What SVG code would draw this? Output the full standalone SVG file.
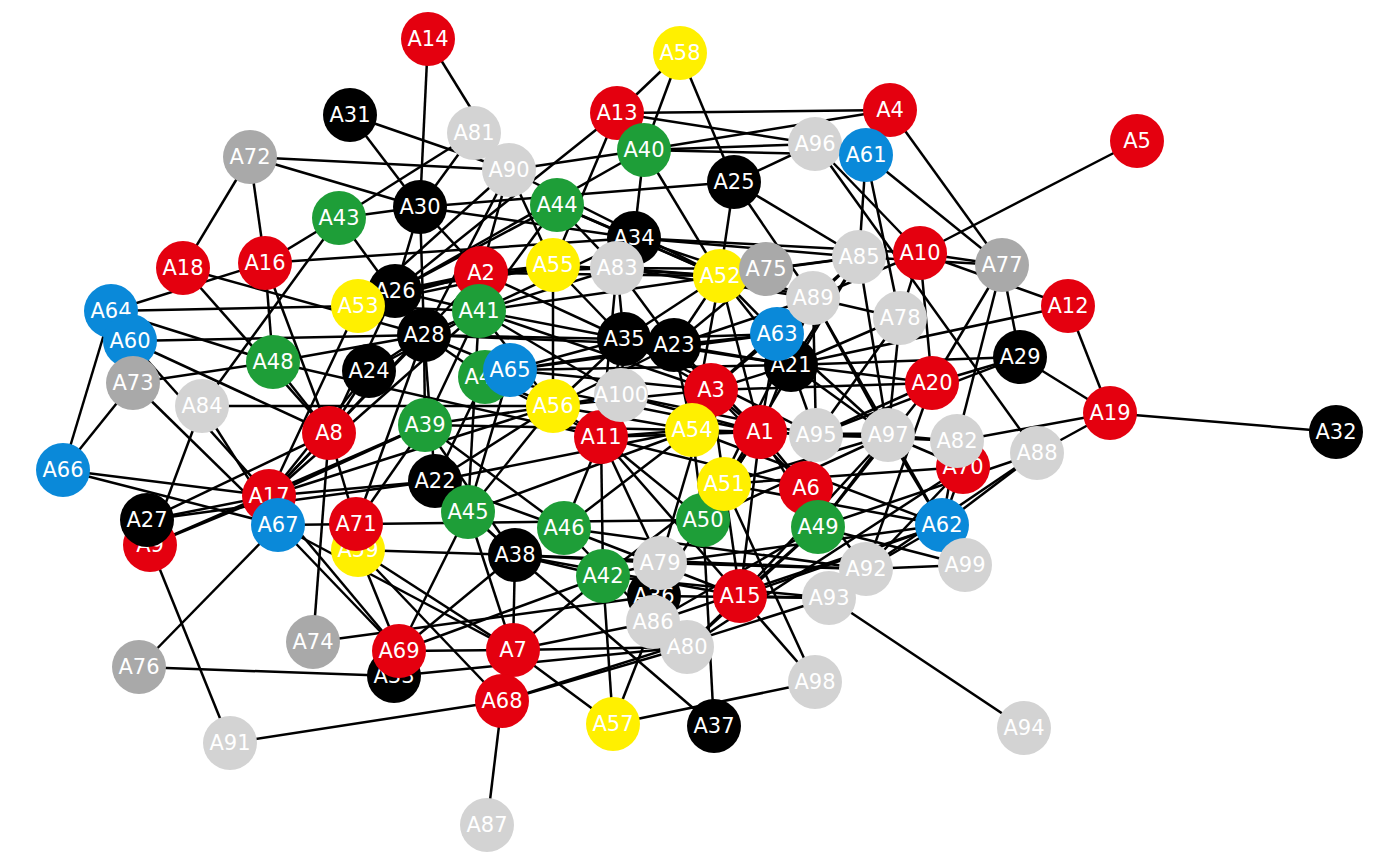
<svg xmlns="http://www.w3.org/2000/svg" width="1400" height="865" viewBox="0 0 1400 865">
<style>
.e line{stroke:#000;stroke-width:2.5}
.e line.t{stroke-width:5}
.r{fill:#E4000F}.k{fill:#000}.g{fill:#1E9E38}.b{fill:#0A89D9}.y{fill:#FFF000}.l{fill:#D3D3D3}.d{fill:#A9A9A9}
.n text{font-family:"DejaVu Sans","Liberation Sans",sans-serif;font-size:21px;fill:#fff;text-anchor:middle}
</style>
<rect width="1400" height="865" fill="#fff"/>
<g id="edges" class="e">
<line x1="428" y1="39" x2="420" y2="207"/><line x1="428" y1="39" x2="509" y2="170"/><line x1="350" y1="115" x2="420" y2="207"/><line x1="350" y1="115" x2="509" y2="170"/>
<line x1="250" y1="157" x2="183" y2="268"/><line x1="250" y1="157" x2="265" y2="263"/><line x1="250" y1="157" x2="509" y2="170"/><line x1="250" y1="157" x2="420" y2="207"/>
<line x1="339" y1="218" x2="265" y2="263"/><line x1="339" y1="218" x2="202" y2="406"/><line x1="339" y1="218" x2="420" y2="207"/><line x1="339" y1="218" x2="474" y2="133"/><line x1="339" y1="218" x2="424" y2="335"/>
<line x1="265" y1="263" x2="634" y2="238"/><line x1="265" y1="263" x2="273" y2="362"/><line x1="265" y1="263" x2="329" y2="433"/><line x1="111" y1="311" x2="265" y2="263"/>
<line x1="183" y1="268" x2="424" y2="335"/><line x1="183" y1="268" x2="329" y2="433"/><line x1="111" y1="311" x2="358" y2="306"/><line x1="111" y1="311" x2="273" y2="362"/><line x1="111" y1="311" x2="63" y2="470"/>
<line x1="130" y1="341" x2="424" y2="335"/><line x1="130" y1="341" x2="329" y2="433"/><line x1="130" y1="341" x2="269" y2="496"/>
<line x1="133" y1="383" x2="278" y2="525"/><line x1="133" y1="383" x2="63" y2="470"/><line x1="133" y1="383" x2="273" y2="362"/>
<line x1="63" y1="470" x2="269" y2="496"/><line x1="63" y1="470" x2="278" y2="525"/>
<line x1="202" y1="406" x2="150" y2="545"/><line x1="202" y1="406" x2="553" y2="406"/><line x1="202" y1="406" x2="278" y2="525"/>
<line x1="273" y1="362" x2="601" y2="437"/><line x1="273" y1="362" x2="424" y2="335"/><line x1="273" y1="362" x2="329" y2="433"/>
<line x1="329" y1="433" x2="147" y2="520"/><line x1="147" y1="520" x2="435" y2="481"/><line x1="150" y1="545" x2="425" y2="425"/>
<line x1="329" y1="433" x2="269" y2="496"/><line x1="329" y1="433" x2="356" y2="524"/><line x1="329" y1="433" x2="313" y2="642"/><line x1="329" y1="433" x2="369" y2="371"/><line x1="329" y1="433" x2="395" y2="291"/>
<line x1="139" y1="667" x2="278" y2="525"/><line x1="139" y1="667" x2="394" y2="676"/><line x1="230" y1="743" x2="150" y2="545"/><line x1="230" y1="743" x2="502" y2="701"/>
<line x1="313" y1="642" x2="654" y2="596"/><line x1="487" y1="825" x2="502" y2="701"/><line x1="358" y1="550" x2="502" y2="701"/><line x1="502" y1="701" x2="687" y2="647"/><line x1="502" y1="701" x2="829" y2="598"/>
<line x1="613" y1="724" x2="513" y2="650"/><line x1="613" y1="724" x2="603" y2="576"/><line x1="613" y1="724" x2="653" y2="622"/><line x1="613" y1="724" x2="815" y2="682"/>
<line x1="714" y1="726" x2="703" y2="520"/><line x1="515" y1="555" x2="714" y2="726"/><line x1="815" y1="682" x2="740" y2="596"/><line x1="815" y1="682" x2="724" y2="484"/>
<line x1="1024" y1="728" x2="829" y2="598"/><line x1="829" y1="598" x2="740" y2="596"/><line x1="965" y1="565" x2="866" y2="569"/><line x1="818" y1="527" x2="965" y2="565"/>
<line x1="1037" y1="453" x2="1110" y2="413"/><line x1="815" y1="144" x2="1037" y2="453"/><line x1="1037" y1="453" x2="942" y2="525"/><line x1="1037" y1="453" x2="866" y2="569"/>
<line x1="1110" y1="413" x2="1336" y2="432"/><line x1="1110" y1="413" x2="1068" y2="306"/><line x1="1110" y1="413" x2="1020" y2="357"/><line x1="1110" y1="413" x2="957" y2="441"/>
<line x1="1068" y1="306" x2="920" y2="253"/><line x1="1068" y1="306" x2="791" y2="365"/><line x1="1137" y1="141" x2="920" y2="253"/>
<line x1="1002" y1="265" x2="866" y2="155"/><line x1="1002" y1="265" x2="890" y2="110"/><line x1="1002" y1="265" x2="920" y2="253"/><line x1="1002" y1="265" x2="1020" y2="357"/><line x1="1002" y1="265" x2="859" y2="257"/><line x1="1002" y1="265" x2="932" y2="383"/><line x1="1002" y1="265" x2="957" y2="441"/>
<line x1="815" y1="144" x2="920" y2="253"/><line x1="866" y1="155" x2="859" y2="257"/><line x1="866" y1="155" x2="900" y2="318"/>
<line x1="890" y1="110" x2="617" y2="113"/><line x1="890" y1="110" x2="644" y2="150"/><line x1="617" y1="113" x2="815" y2="144"/><line x1="644" y1="150" x2="815" y2="144"/><line x1="644" y1="150" x2="866" y2="155"/>
<line x1="734" y1="182" x2="815" y2="144"/><line x1="734" y1="182" x2="420" y2="207"/><line x1="680" y1="53" x2="617" y2="113"/><line x1="680" y1="53" x2="644" y2="150"/><line x1="680" y1="53" x2="734" y2="182"/>
<line x1="617" y1="113" x2="395" y2="291"/><line x1="617" y1="113" x2="553" y2="265"/><line x1="644" y1="150" x2="634" y2="238"/><line x1="644" y1="150" x2="720" y2="276"/><line x1="644" y1="150" x2="395" y2="291"/>
<line x1="509" y1="170" x2="644" y2="150"/><line x1="557" y1="205" x2="634" y2="238"/>
<line x1="420" y1="207" x2="474" y2="133"/><line x1="420" y1="207" x2="395" y2="291"/><line x1="420" y1="207" x2="424" y2="335"/><line x1="420" y1="207" x2="481" y2="273"/><line x1="420" y1="207" x2="634" y2="238"/>
<line x1="509" y1="170" x2="424" y2="335"/><line x1="509" y1="170" x2="358" y2="306"/><line x1="509" y1="170" x2="481" y2="273"/><line x1="509" y1="170" x2="553" y2="265"/><line x1="509" y1="170" x2="720" y2="276"/>
<line x1="553" y1="265" x2="553" y2="406"/><line x1="617" y1="268" x2="624" y2="339"/><line x1="634" y1="238" x2="859" y2="257"/>
<line x1="734" y1="182" x2="859" y2="257"/><line x1="734" y1="182" x2="720" y2="276"/><line x1="734" y1="182" x2="813" y2="298"/>
<line x1="1020" y1="357" x2="932" y2="383"/><line x1="1020" y1="357" x2="816" y2="435"/><line x1="711" y1="390" x2="932" y2="383"/><line x1="932" y1="383" x2="791" y2="365"/>
<line x1="957" y1="441" x2="888" y2="435"/><line x1="963" y1="467" x2="724" y2="484"/><line x1="942" y1="525" x2="888" y2="435"/><line x1="942" y1="525" x2="813" y2="298"/><line x1="942" y1="525" x2="724" y2="484"/><line x1="766" y1="269" x2="859" y2="257"/>
<line x1="358" y1="306" x2="479" y2="311"/><line x1="358" y1="306" x2="553" y2="265"/><line x1="395" y1="291" x2="479" y2="311"/><line x1="395" y1="291" x2="557" y2="205"/><line x1="395" y1="291" x2="553" y2="265"/>
<line x1="424" y1="335" x2="479" y2="311"/><line x1="424" y1="335" x2="624" y2="339"/><line x1="424" y1="335" x2="510" y2="370"/><line x1="424" y1="335" x2="674" y2="345"/><line x1="424" y1="335" x2="369" y2="371"/><line x1="424" y1="335" x2="425" y2="425"/><line x1="424" y1="335" x2="435" y2="481"/><line x1="424" y1="335" x2="356" y2="524"/><line x1="424" y1="335" x2="269" y2="496"/>
<line x1="369" y1="371" x2="479" y2="311"/><line x1="369" y1="371" x2="269" y2="496"/>
<line x1="479" y1="311" x2="557" y2="205"/><line x1="479" y1="311" x2="634" y2="238"/><line x1="479" y1="311" x2="617" y2="268"/><line x1="479" y1="311" x2="624" y2="339"/><line x1="479" y1="311" x2="711" y2="390"/><line x1="479" y1="311" x2="269" y2="496"/><line x1="479" y1="311" x2="468" y2="512"/><line x1="479" y1="311" x2="553" y2="406"/><line x1="479" y1="311" x2="720" y2="276"/>
<line x1="481" y1="273" x2="553" y2="265"/><line x1="481" y1="273" x2="617" y2="268"/><line x1="481" y1="273" x2="720" y2="276"/><line x1="481" y1="273" x2="624" y2="339"/><line x1="481" y1="273" x2="269" y2="496"/><line x1="481" y1="273" x2="395" y2="291"/>
<line x1="510" y1="370" x2="624" y2="339"/><line x1="510" y1="370" x2="674" y2="345"/><line x1="510" y1="370" x2="711" y2="390"/><line x1="510" y1="370" x2="777" y2="334"/><line x1="510" y1="370" x2="468" y2="512"/><line x1="510" y1="370" x2="791" y2="365"/>
<line x1="485" y1="377" x2="553" y2="406"/><line x1="485" y1="377" x2="601" y2="437"/><line x1="485" y1="377" x2="760" y2="432"/><line x1="485" y1="377" x2="435" y2="481"/><line x1="485" y1="377" x2="424" y2="335"/>
<line x1="425" y1="425" x2="269" y2="496"/><line x1="425" y1="425" x2="356" y2="524"/><line x1="425" y1="425" x2="553" y2="406"/><line x1="425" y1="425" x2="692" y2="430"/><line x1="425" y1="425" x2="515" y2="555"/><line x1="425" y1="425" x2="564" y2="528"/><line x1="425" y1="425" x2="479" y2="311"/>
<line x1="435" y1="481" x2="553" y2="406"/><line x1="435" y1="481" x2="692" y2="430"/><line x1="435" y1="481" x2="468" y2="512"/><line x1="435" y1="481" x2="564" y2="528"/>
<line x1="468" y1="512" x2="513" y2="650"/><line x1="468" y1="512" x2="515" y2="555"/><line x1="468" y1="512" x2="553" y2="406"/><line x1="468" y1="512" x2="692" y2="430"/><line x1="468" y1="512" x2="399" y2="651"/>
<line x1="278" y1="525" x2="703" y2="520"/>
<line x1="358" y1="550" x2="399" y2="651"/><line x1="358" y1="550" x2="515" y2="555"/><line x1="358" y1="550" x2="513" y2="650"/>
<line x1="399" y1="651" x2="603" y2="576"/><line x1="399" y1="651" x2="513" y2="650"/><line x1="399" y1="651" x2="515" y2="555"/><line x1="269" y1="496" x2="399" y2="651"/><line x1="394" y1="676" x2="687" y2="647"/>
<line x1="513" y1="650" x2="603" y2="576"/><line x1="513" y1="650" x2="653" y2="622"/><line x1="513" y1="650" x2="515" y2="555"/><line x1="513" y1="650" x2="687" y2="647"/><line x1="278" y1="525" x2="513" y2="650"/>
<line x1="515" y1="555" x2="603" y2="576"/><line x1="515" y1="555" x2="866" y2="569"/><line x1="515" y1="555" x2="660" y2="563"/><line x1="515" y1="555" x2="740" y2="596"/><line x1="515" y1="555" x2="435" y2="481"/>
<line x1="564" y1="528" x2="601" y2="437"/><line x1="564" y1="528" x2="692" y2="430"/><line x1="564" y1="528" x2="866" y2="569"/><line x1="564" y1="528" x2="653" y2="622"/><line x1="564" y1="528" x2="740" y2="596"/>
<line x1="603" y1="576" x2="601" y2="437"/><line x1="603" y1="576" x2="660" y2="563"/><line x1="603" y1="576" x2="724" y2="484"/><line x1="603" y1="576" x2="829" y2="598"/>
<line x1="660" y1="563" x2="601" y2="437"/><line x1="660" y1="563" x2="866" y2="569"/><line x1="660" y1="563" x2="711" y2="390"/><line x1="660" y1="563" x2="942" y2="525"/>
<line x1="654" y1="596" x2="760" y2="432"/><line x1="654" y1="596" x2="829" y2="598"/><line x1="653" y1="622" x2="942" y2="525"/><line x1="653" y1="622" x2="818" y2="527"/>
<line x1="687" y1="647" x2="740" y2="596"/><line x1="687" y1="647" x2="818" y2="527"/><line x1="687" y1="647" x2="963" y2="467"/>
<line x1="740" y1="596" x2="601" y2="437"/><line x1="740" y1="596" x2="760" y2="432"/><line x1="740" y1="596" x2="818" y2="527"/><line x1="740" y1="596" x2="942" y2="525"/><line x1="740" y1="596" x2="888" y2="435"/><line x1="740" y1="596" x2="711" y2="390"/>
<line x1="703" y1="520" x2="760" y2="432"/><line x1="703" y1="520" x2="692" y2="430"/><line x1="703" y1="520" x2="601" y2="437"/><line x1="703" y1="520" x2="888" y2="435"/><line x1="703" y1="520" x2="813" y2="298"/>
<line x1="724" y1="484" x2="760" y2="432"/><line x1="724" y1="484" x2="888" y2="435"/><line x1="724" y1="484" x2="859" y2="257"/>
<line x1="806" y1="488" x2="760" y2="432"/><line x1="806" y1="488" x2="711" y2="390"/><line x1="806" y1="488" x2="866" y2="569"/><line x1="806" y1="488" x2="601" y2="437"/><line x1="806" y1="488" x2="816" y2="435"/>
<line x1="818" y1="527" x2="888" y2="435"/><line x1="818" y1="527" x2="932" y2="383"/><line x1="818" y1="527" x2="1037" y2="453"/><line x1="818" y1="527" x2="760" y2="432"/>
<line x1="760" y1="432" x2="711" y2="390"/><line x1="760" y1="432" x2="692" y2="430"/><line x1="760" y1="432" x2="816" y2="435"/><line x1="760" y1="432" x2="601" y2="437"/><line x1="760" y1="432" x2="777" y2="334"/><line x1="760" y1="432" x2="813" y2="298"/><line x1="760" y1="432" x2="674" y2="345"/><line x1="760" y1="432" x2="720" y2="276"/>
<line class="t" x1="816" y1="435" x2="888" y2="435"/><line x1="816" y1="435" x2="900" y2="318"/><line x1="816" y1="435" x2="932" y2="383"/><line x1="816" y1="435" x2="813" y2="298"/><line x1="816" y1="435" x2="791" y2="365"/><line x1="816" y1="435" x2="624" y2="339"/>
<line x1="888" y1="435" x2="813" y2="298"/><line x1="888" y1="435" x2="791" y2="365"/><line x1="888" y1="435" x2="859" y2="257"/><line x1="888" y1="435" x2="777" y2="334"/>
<line x1="711" y1="390" x2="791" y2="365"/><line x1="711" y1="390" x2="777" y2="334"/><line x1="711" y1="390" x2="624" y2="339"/><line x1="711" y1="390" x2="674" y2="345"/><line x1="711" y1="390" x2="692" y2="430"/><line x1="711" y1="390" x2="553" y2="406"/><line x1="711" y1="390" x2="813" y2="298"/>
<line x1="692" y1="430" x2="601" y2="437"/><line x1="692" y1="430" x2="553" y2="406"/><line x1="692" y1="430" x2="674" y2="345"/><line x1="692" y1="430" x2="720" y2="276"/><line x1="692" y1="430" x2="942" y2="525"/>
<line x1="601" y1="437" x2="553" y2="406"/><line x1="601" y1="437" x2="621" y2="395"/><line x1="601" y1="437" x2="624" y2="339"/><line x1="601" y1="437" x2="617" y2="268"/>
<line x1="553" y1="406" x2="621" y2="395"/><line x1="553" y1="406" x2="624" y2="339"/><line x1="553" y1="406" x2="674" y2="345"/>
<line x1="621" y1="395" x2="624" y2="339"/><line x1="621" y1="395" x2="760" y2="432"/><line x1="621" y1="395" x2="816" y2="435"/><line x1="621" y1="395" x2="479" y2="311"/>
<line x1="624" y1="339" x2="553" y2="265"/><line x1="624" y1="339" x2="720" y2="276"/><line x1="624" y1="339" x2="777" y2="334"/><line x1="624" y1="339" x2="791" y2="365"/>
<line x1="674" y1="345" x2="777" y2="334"/><line x1="674" y1="345" x2="720" y2="276"/><line x1="674" y1="345" x2="766" y2="269"/><line x1="674" y1="345" x2="617" y2="268"/><line x1="674" y1="345" x2="813" y2="298"/><line x1="674" y1="345" x2="791" y2="365"/>
<line x1="720" y1="276" x2="617" y2="268"/><line x1="720" y1="276" x2="553" y2="265"/><line x1="720" y1="276" x2="766" y2="269"/><line x1="720" y1="276" x2="777" y2="334"/><line x1="720" y1="276" x2="813" y2="298"/><line x1="720" y1="276" x2="791" y2="365"/>
<line x1="777" y1="334" x2="813" y2="298"/><line x1="777" y1="334" x2="859" y2="257"/><line x1="777" y1="334" x2="791" y2="365"/>
<line x1="791" y1="365" x2="859" y2="257"/><line x1="791" y1="365" x2="900" y2="318"/><line x1="791" y1="365" x2="1020" y2="357"/>
<line x1="269" y1="496" x2="150" y2="545"/><line x1="269" y1="496" x2="147" y2="520"/><line x1="269" y1="496" x2="435" y2="481"/><line x1="269" y1="496" x2="553" y2="406"/><line x1="269" y1="496" x2="358" y2="306"/><line x1="278" y1="525" x2="399" y2="651"/>
<line x1="617" y1="268" x2="766" y2="269"/><line x1="617" y1="268" x2="813" y2="298"/><line x1="634" y1="238" x2="720" y2="276"/><line x1="634" y1="238" x2="813" y2="298"/><line x1="634" y1="238" x2="920" y2="253"/>
<line x1="557" y1="205" x2="720" y2="276"/><line x1="557" y1="205" x2="617" y2="268"/><line x1="900" y1="318" x2="813" y2="298"/><line x1="900" y1="318" x2="888" y2="435"/>
<line x1="859" y1="257" x2="813" y2="298"/><line x1="859" y1="257" x2="720" y2="276"/><line x1="920" y1="253" x2="900" y2="318"/><line x1="920" y1="253" x2="932" y2="383"/><line x1="920" y1="253" x2="813" y2="298"/>
<line x1="957" y1="441" x2="942" y2="525"/><line x1="957" y1="441" x2="760" y2="432"/><line x1="963" y1="467" x2="942" y2="525"/><line x1="963" y1="467" x2="888" y2="435"/><line x1="963" y1="467" x2="866" y2="569"/>
<line x1="942" y1="525" x2="866" y2="569"/><line x1="866" y1="569" x2="932" y2="383"/><line x1="358" y1="306" x2="481" y2="273"/>
</g>
<g id="A64" class="n"><circle class="b" cx="111" cy="311" r="27"/><text x="111" y="318">A64</text></g>
<g id="A96" class="n"><circle class="l" cx="815" cy="144" r="27"/><text x="815" y="151">A96</text></g>
<g id="A92" class="n"><circle class="l" cx="866" cy="569" r="27"/><text x="866" y="576">A92</text></g>
<g id="A35" class="n"><circle class="k" cx="624" cy="339" r="27"/><text x="624" y="346">A35</text></g>
<g id="A1" class="n"><circle class="r" cx="760" cy="432" r="27"/><text x="760" y="439">A1</text></g>
<g id="A2" class="n"><circle class="r" cx="481" cy="273" r="27"/><text x="481" y="280">A2</text></g>
<g id="A3" class="n"><circle class="r" cx="711" cy="390" r="27"/><text x="711" y="397">A3</text></g>
<g id="A4" class="n"><circle class="r" cx="890" cy="110" r="27"/><text x="890" y="117">A4</text></g>
<g id="A5" class="n"><circle class="r" cx="1137" cy="141" r="27"/><text x="1137" y="148">A5</text></g>
<g id="A6" class="n"><circle class="r" cx="806" cy="488" r="27"/><text x="806" y="495">A6</text></g>
<g id="A7" class="n"><circle class="r" cx="513" cy="650" r="27"/><text x="513" y="657">A7</text></g>
<g id="A8" class="n"><circle class="r" cx="329" cy="433" r="27"/><text x="329" y="440">A8</text></g>
<g id="A9" class="n"><circle class="r" cx="150" cy="545" r="27"/><text x="150" y="552">A9</text></g>
<g id="A10" class="n"><circle class="r" cx="920" cy="253" r="27"/><text x="920" y="260">A10</text></g>
<g id="A11" class="n"><circle class="r" cx="601" cy="437" r="27"/><text x="601" y="444">A11</text></g>
<g id="A12" class="n"><circle class="r" cx="1068" cy="306" r="27"/><text x="1068" y="313">A12</text></g>
<g id="A13" class="n"><circle class="r" cx="617" cy="113" r="27"/><text x="617" y="120">A13</text></g>
<g id="A14" class="n"><circle class="r" cx="428" cy="39" r="27"/><text x="428" y="46">A14</text></g>
<g id="A15" class="n"><circle class="r" cx="740" cy="596" r="27"/><text x="740" y="603">A15</text></g>
<g id="A16" class="n"><circle class="r" cx="265" cy="263" r="27"/><text x="265" y="270">A16</text></g>
<g id="A17" class="n"><circle class="r" cx="269" cy="496" r="27"/><text x="269" y="503">A17</text></g>
<g id="A18" class="n"><circle class="r" cx="183" cy="268" r="27"/><text x="183" y="275">A18</text></g>
<g id="A19" class="n"><circle class="r" cx="1110" cy="413" r="27"/><text x="1110" y="420">A19</text></g>
<g id="A20" class="n"><circle class="r" cx="932" cy="383" r="27"/><text x="932" y="390">A20</text></g>
<g id="A21" class="n"><circle class="k" cx="791" cy="365" r="27"/><text x="791" y="372">A21</text></g>
<g id="A22" class="n"><circle class="k" cx="435" cy="481" r="27"/><text x="435" y="488">A22</text></g>
<g id="A23" class="n"><circle class="k" cx="674" cy="345" r="27"/><text x="674" y="352">A23</text></g>
<g id="A24" class="n"><circle class="k" cx="369" cy="371" r="27"/><text x="369" y="378">A24</text></g>
<g id="A25" class="n"><circle class="k" cx="734" cy="182" r="27"/><text x="734" y="189">A25</text></g>
<g id="A26" class="n"><circle class="k" cx="395" cy="291" r="27"/><text x="395" y="298">A26</text></g>
<g id="A27" class="n"><circle class="k" cx="147" cy="520" r="27"/><text x="147" y="527">A27</text></g>
<g id="A28" class="n"><circle class="k" cx="424" cy="335" r="27"/><text x="424" y="342">A28</text></g>
<g id="A29" class="n"><circle class="k" cx="1020" cy="357" r="27"/><text x="1020" y="364">A29</text></g>
<g id="A30" class="n"><circle class="k" cx="420" cy="207" r="27"/><text x="420" y="214">A30</text></g>
<g id="A31" class="n"><circle class="k" cx="350" cy="115" r="27"/><text x="350" y="122">A31</text></g>
<g id="A32" class="n"><circle class="k" cx="1336" cy="432" r="27"/><text x="1336" y="439">A32</text></g>
<g id="A33" class="n"><circle class="k" cx="394" cy="676" r="27"/><text x="394" y="683">A33</text></g>
<g id="A34" class="n"><circle class="k" cx="634" cy="238" r="27"/><text x="634" y="245">A34</text></g>
<g id="A36" class="n"><circle class="k" cx="654" cy="596" r="27"/><text x="654" y="603">A36</text></g>
<g id="A37" class="n"><circle class="k" cx="714" cy="726" r="27"/><text x="714" y="733">A37</text></g>
<g id="A38" class="n"><circle class="k" cx="515" cy="555" r="27"/><text x="515" y="562">A38</text></g>
<g id="A39" class="n"><circle class="g" cx="425" cy="425" r="27"/><text x="425" y="432">A39</text></g>
<g id="A40" class="n"><circle class="g" cx="644" cy="150" r="27"/><text x="644" y="157">A40</text></g>
<g id="A41" class="n"><circle class="g" cx="479" cy="311" r="27"/><text x="479" y="318">A41</text></g>
<g id="A42" class="n"><circle class="g" cx="603" cy="576" r="27"/><text x="603" y="583">A42</text></g>
<g id="A43" class="n"><circle class="g" cx="339" cy="218" r="27"/><text x="339" y="225">A43</text></g>
<g id="A44" class="n"><circle class="g" cx="557" cy="205" r="27"/><text x="557" y="212">A44</text></g>
<g id="A45" class="n"><circle class="g" cx="468" cy="512" r="27"/><text x="468" y="519">A45</text></g>
<g id="A46" class="n"><circle class="g" cx="564" cy="528" r="27"/><text x="564" y="535">A46</text></g>
<g id="A47" class="n"><circle class="g" cx="485" cy="377" r="27"/><text x="485" y="384">A47</text></g>
<g id="A48" class="n"><circle class="g" cx="273" cy="362" r="27"/><text x="273" y="369">A48</text></g>
<g id="A49" class="n"><circle class="g" cx="818" cy="527" r="27"/><text x="818" y="534">A49</text></g>
<g id="A50" class="n"><circle class="g" cx="703" cy="520" r="27"/><text x="703" y="527">A50</text></g>
<g id="A51" class="n"><circle class="y" cx="724" cy="484" r="27"/><text x="724" y="491">A51</text></g>
<g id="A52" class="n"><circle class="y" cx="720" cy="276" r="27"/><text x="720" y="283">A52</text></g>
<g id="A53" class="n"><circle class="y" cx="358" cy="306" r="27"/><text x="358" y="313">A53</text></g>
<g id="A54" class="n"><circle class="y" cx="692" cy="430" r="27"/><text x="692" y="437">A54</text></g>
<g id="A55" class="n"><circle class="y" cx="553" cy="265" r="27"/><text x="553" y="272">A55</text></g>
<g id="A56" class="n"><circle class="y" cx="553" cy="406" r="27"/><text x="553" y="413">A56</text></g>
<g id="A57" class="n"><circle class="y" cx="613" cy="724" r="27"/><text x="613" y="731">A57</text></g>
<g id="A58" class="n"><circle class="y" cx="680" cy="53" r="27"/><text x="680" y="60">A58</text></g>
<g id="A59" class="n"><circle class="y" cx="358" cy="550" r="27"/><text x="358" y="557">A59</text></g>
<g id="A60" class="n"><circle class="b" cx="130" cy="341" r="27"/><text x="130" y="348">A60</text></g>
<g id="A61" class="n"><circle class="b" cx="866" cy="155" r="27"/><text x="866" y="162">A61</text></g>
<g id="A62" class="n"><circle class="b" cx="942" cy="525" r="27"/><text x="942" y="532">A62</text></g>
<g id="A63" class="n"><circle class="b" cx="777" cy="334" r="27"/><text x="777" y="341">A63</text></g>
<g id="A65" class="n"><circle class="b" cx="510" cy="370" r="27"/><text x="510" y="377">A65</text></g>
<g id="A66" class="n"><circle class="b" cx="63" cy="470" r="27"/><text x="63" y="477">A66</text></g>
<g id="A67" class="n"><circle class="b" cx="278" cy="525" r="27"/><text x="278" y="532">A67</text></g>
<g id="A68" class="n"><circle class="r" cx="502" cy="701" r="27"/><text x="502" y="708">A68</text></g>
<g id="A69" class="n"><circle class="r" cx="399" cy="651" r="27"/><text x="399" y="658">A69</text></g>
<g id="A70" class="n"><circle class="r" cx="963" cy="467" r="27"/><text x="963" y="474">A70</text></g>
<g id="A71" class="n"><circle class="r" cx="356" cy="524" r="27"/><text x="356" y="531">A71</text></g>
<g id="A72" class="n"><circle class="d" cx="250" cy="157" r="27"/><text x="250" y="164">A72</text></g>
<g id="A73" class="n"><circle class="d" cx="133" cy="383" r="27"/><text x="133" y="390">A73</text></g>
<g id="A74" class="n"><circle class="d" cx="313" cy="642" r="27"/><text x="313" y="649">A74</text></g>
<g id="A75" class="n"><circle class="d" cx="766" cy="269" r="27"/><text x="766" y="276">A75</text></g>
<g id="A76" class="n"><circle class="d" cx="139" cy="667" r="27"/><text x="139" y="674">A76</text></g>
<g id="A77" class="n"><circle class="d" cx="1002" cy="265" r="27"/><text x="1002" y="272">A77</text></g>
<g id="A78" class="n"><circle class="l" cx="900" cy="318" r="27"/><text x="900" y="325">A78</text></g>
<g id="A79" class="n"><circle class="l" cx="660" cy="563" r="27"/><text x="660" y="570">A79</text></g>
<g id="A80" class="n"><circle class="l" cx="687" cy="647" r="27"/><text x="687" y="654">A80</text></g>
<g id="A81" class="n"><circle class="l" cx="474" cy="133" r="27"/><text x="474" y="140">A81</text></g>
<g id="A82" class="n"><circle class="l" cx="957" cy="441" r="27"/><text x="957" y="448">A82</text></g>
<g id="A83" class="n"><circle class="l" cx="617" cy="268" r="27"/><text x="617" y="275">A83</text></g>
<g id="A84" class="n"><circle class="l" cx="202" cy="406" r="27"/><text x="202" y="413">A84</text></g>
<g id="A85" class="n"><circle class="l" cx="859" cy="257" r="27"/><text x="859" y="264">A85</text></g>
<g id="A86" class="n"><circle class="l" cx="653" cy="622" r="27"/><text x="653" y="629">A86</text></g>
<g id="A87" class="n"><circle class="l" cx="487" cy="825" r="27"/><text x="487" y="832">A87</text></g>
<g id="A88" class="n"><circle class="l" cx="1037" cy="453" r="27"/><text x="1037" y="460">A88</text></g>
<g id="A89" class="n"><circle class="l" cx="813" cy="298" r="27"/><text x="813" y="305">A89</text></g>
<g id="A90" class="n"><circle class="l" cx="509" cy="170" r="27"/><text x="509" y="177">A90</text></g>
<g id="A91" class="n"><circle class="l" cx="230" cy="743" r="27"/><text x="230" y="750">A91</text></g>
<g id="A93" class="n"><circle class="l" cx="829" cy="598" r="27"/><text x="829" y="605">A93</text></g>
<g id="A94" class="n"><circle class="l" cx="1024" cy="728" r="27"/><text x="1024" y="735">A94</text></g>
<g id="A95" class="n"><circle class="l" cx="816" cy="435" r="27"/><text x="816" y="442">A95</text></g>
<g id="A97" class="n"><circle class="l" cx="888" cy="435" r="27"/><text x="888" y="442">A97</text></g>
<g id="A98" class="n"><circle class="l" cx="815" cy="682" r="27"/><text x="815" y="689">A98</text></g>
<g id="A99" class="n"><circle class="l" cx="965" cy="565" r="27"/><text x="965" y="572">A99</text></g>
<g id="A100" class="n"><circle class="l" cx="621" cy="395" r="27"/><text x="621" y="402">A100</text></g>
</svg>
